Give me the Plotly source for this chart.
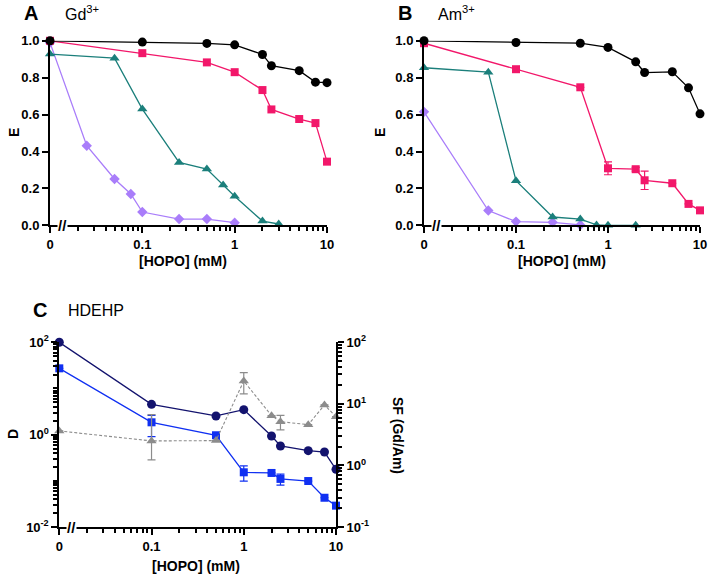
import plotly.graph_objects as go

# ---------------- data ----------------
# "0" HOPO is plotted at 0.01 on the log axis (axis break)
ZERO = 0.01

# Panel A (Gd3+)
a_black_x = [ZERO, 0.1, 0.5, 1, 2, 2.5, 5, 7.5, 10]
a_black_y = [1.0, 0.993, 0.986, 0.978, 0.926, 0.865, 0.838, 0.776, 0.773]
a_pink_x = [ZERO, 0.1, 0.5, 1, 2, 2.5, 5, 7.5, 10]
a_pink_y = [1.0, 0.933, 0.883, 0.830, 0.733, 0.628, 0.576, 0.554, 0.345]
a_teal_x = [ZERO, 0.05, 0.1, 0.25, 0.5, 0.75, 1, 2, 3]
a_teal_y = [0.928, 0.906, 0.630, 0.341, 0.305, 0.218, 0.157, 0.023, 0.007]
a_purple_x = [ZERO, 0.025, 0.05, 0.075, 0.1, 0.25, 0.5, 1]
a_purple_y = [0.99, 0.431, 0.251, 0.170, 0.072, 0.034, 0.034, 0.014]

# Panel B (Am3+)
b_black_x = [ZERO, 0.1, 0.5, 1, 2, 2.5, 5, 7.5, 10]
b_black_y = [1.0, 0.991, 0.987, 0.964, 0.886, 0.828, 0.832, 0.745, 0.604]
b_pink_x = [ZERO, 0.1, 0.5, 1, 2, 2.5, 5, 7.5, 10]
b_pink_y = [0.987, 0.846, 0.748, 0.309, 0.304, 0.244, 0.228, 0.116, 0.081]
b_pink_err = [0, 0, 0, 0.035, 0.01, 0.05, 0, 0, 0]
b_teal_x = [ZERO, 0.05, 0.1, 0.25, 0.5, 0.75, 1, 2]
b_teal_y = [0.854, 0.830, 0.242, 0.045, 0.034, 0.002, 0.0, 0.0]
b_purple_x = [ZERO, 0.05, 0.1, 0.25, 0.5]
b_purple_y = [0.615, 0.080, 0.020, 0.016, 0.002]

# Panel C (HDEHP)
c_x = [ZERO, 0.1, 0.5, 1, 2, 2.5, 5, 7.5, 10]
c_gd_D = [100, 4.54, 2.54, 3.48, 0.936, 0.569, 0.45, 0.42, 0.177]
c_am_D = [27.3, 1.85, 0.97, 0.153, 0.148, 0.11, 0.099, 0.043, 0.029]
c_am_up = [0, 0.77, 0, 0.057, 0, 0.03, 0, 0, 0]
c_am_dn = [0, 0.944, 0, 0.054, 0, 0.029, 0, 0, 0]
c_sf = [3.63, 2.50, 2.53, 23.5, 6.44, 5.14, 4.6, 9.6, 6.2]
c_sf_up = [0, 4.18, 0, 8.7, 0, 1.36, 0, 0, 0]
c_sf_dn = [0, 1.27, 0, 9.0, 0, 1.37, 0, 0, 0]

x_tickvals = [ZERO, 0.1, 1, 10]
x_ticktext = ["0", "0.1", "1", "10"]
e_tickvals = [0, 0.2, 0.4, 0.6, 0.8, 1.0]
e_ticktext = ["0.0", "0.2", "0.4", "0.6", "0.8", "1.0"]
d_tickvals = [0.01, 1, 100]
d_ticktext = ["10<sup>-2</sup>", "10<sup>0</sup>", "10<sup>2</sup>"]
sf_tickvals = [0.1, 1, 10, 100]
sf_ticktext = ["10<sup>-1</sup>", "10<sup>0</sup>", "10<sup>1</sup>", "10<sup>2</sup>"]

# ---------------- styling ----------------
BLACK = "#000000"
PINK = "#F2176A"
TEAL = "#1B7F7B"
PURPLE = "#A97DFA"
NAVY = "#13136E"
BLUE = "#1030F2"
GRAY = "#8C8C8C"
FONT = "Liberation Sans"

def decade_minor(lo_exp, hi_exp, include_decades=False):
    vals = []
    for e in range(lo_exp, hi_exp):
        base = 10.0 ** e
        if include_decades and e != lo_exp:
            vals.append(base)
        vals += [k * base for k in range(2, 10)]
    return vals

x_minor = decade_minor(-2, 1)
d_minor = decade_minor(-2, 2, include_decades=True)
sf_minor = decade_minor(-1, 2)

fig = go.Figure()

def line_trace(x, y, color, symbol, size, xa, ya, dash="solid", err=None, name="", lw=1.3):
    kw = {}
    if err is not None:
        kw["error_y"] = err
    return go.Scatter(
        x=x, y=y, mode="lines+markers", xaxis=xa, yaxis=ya, name=name,
        line=dict(color=color, width=lw, dash=dash),
        marker=dict(color=color, symbol=symbol, size=size),
        cliponaxis=False, showlegend=False, **kw)

# Panel A
fig.add_trace(line_trace(a_purple_x, a_purple_y, PURPLE, "diamond", 8, "x", "y"))
fig.add_trace(line_trace(a_teal_x, a_teal_y, TEAL, "triangle-up", 9, "x", "y"))
fig.add_trace(line_trace(a_pink_x, a_pink_y, PINK, "square", 8, "x", "y"))
fig.add_trace(line_trace(a_black_x, a_black_y, BLACK, "circle", 9, "x", "y"))

# Panel B
fig.add_trace(line_trace(b_purple_x, b_purple_y, PURPLE, "diamond", 8, "x2", "y2"))
fig.add_trace(line_trace(b_teal_x, b_teal_y, TEAL, "triangle-up", 9, "x2", "y2"))
fig.add_trace(line_trace(b_pink_x, b_pink_y, PINK, "square", 8, "x2", "y2",
                         err=dict(type="data", array=b_pink_err, color=PINK,
                                  thickness=1.2, width=4)))
fig.add_trace(line_trace(b_black_x, b_black_y, BLACK, "circle", 9, "x2", "y2"))

# Panel C
fig.add_trace(line_trace(c_x, c_sf, GRAY, "triangle-up", 9, "x3", "y4", dash="3px,2px",
                         lw=1.1,
                         err=dict(type="data", symmetric=False, array=c_sf_up,
                                  arrayminus=c_sf_dn, color=GRAY, thickness=1.2, width=4)))
fig.add_trace(line_trace(c_x, c_gd_D, NAVY, "circle", 9, "x3", "y3"))
fig.add_trace(line_trace(c_x, c_am_D, BLUE, "square", 8, "x3", "y3",
                         err=dict(type="data", symmetric=False, array=c_am_up,
                                  arrayminus=c_am_dn, color=BLUE, thickness=1.2, width=4)))

W, H = 708, 576
def px(v):
    return v / W
def py(v):
    return 1 - v / H

tickfont = dict(family=FONT, size=13, color="black", weight="bold")

common_axis = dict(showline=True, linecolor="black", linewidth=2, ticks="outside",
                   ticklen=6, tickwidth=2, tickcolor="black", showgrid=False,
                   zeroline=False, tickfont=tickfont, automargin=False)

def xaxis_cfg(domain, anchor):
    return dict(common_axis, type="log", range=[-2, 1], domain=domain, anchor=anchor,
                tickmode="array", tickvals=x_tickvals, ticktext=x_ticktext,
                minor=dict(tickmode="array", tickvals=x_minor, ticks="outside",
                           ticklen=4, tickwidth=1.5, tickcolor="black", showgrid=False))

def e_axis_cfg(domain, anchor):
    return dict(common_axis, range=[0, 1.0], domain=domain, anchor=anchor,
                tickmode="array", tickvals=e_tickvals, ticktext=e_ticktext)

yA = [py(225.3), py(40.8)]
fig.update_layout(
    width=W, height=H, margin=dict(l=0, r=0, t=0, b=0, autoexpand=False),
    plot_bgcolor="white", paper_bgcolor="white",
    font=dict(family=FONT, color="black"),
    xaxis=xaxis_cfg([px(50), px(327)], "y"),
    yaxis=e_axis_cfg(yA, "x"),
    xaxis2=xaxis_cfg([px(424), px(700)], "y2"),
    yaxis2=e_axis_cfg(yA, "x2"),
    xaxis3=xaxis_cfg([px(59.3), px(336)], "y3"),
    yaxis3=dict(common_axis, type="log", range=[-2, 2], domain=[py(527), py(342.3)],
                anchor="x3", tickmode="array", tickvals=d_tickvals, ticktext=d_ticktext,
                minor=dict(tickmode="array", tickvals=d_minor, ticks="outside",
                           ticklen=4, tickwidth=1.5, tickcolor="black", showgrid=False)),
    yaxis4=dict(common_axis, type="log", range=[-1, 2], domain=[py(527), py(342.3)],
                anchor="x3", overlaying="y3", side="right",
                tickmode="array", tickvals=sf_tickvals, ticktext=sf_ticktext,
                minor=dict(tickmode="array", tickvals=sf_minor, ticks="outside",
                           ticklen=4, tickwidth=1.5, tickcolor="black", showgrid=False)),
)

ann = []
title_font = dict(family=FONT, size=20, color="black", weight="bold")
sub_font = dict(family=FONT, size=16, color="black")
lab_font = dict(family=FONT, size=14, color="black", weight="bold")

def add_text(text, x, y, font, xanchor="left", yanchor="middle", textangle=0):
    ann.append(dict(text=text, x=px(x), y=py(y), xref="paper", yref="paper",
                    xanchor=xanchor, yanchor=yanchor, showarrow=False, font=font,
                    textangle=textangle))

add_text("A", 22, 13, title_font)
add_text("Gd<sup>3+</sup>", 63, 13, sub_font)
add_text("B", 396, 13, title_font)
add_text("Am<sup>3+</sup>", 436, 13, sub_font)
add_text("C", 31, 310, title_font)
add_text("HDEHP", 66, 310, sub_font)

add_text("E", 14, 133, lab_font, xanchor="center", textangle=-90)
add_text("E", 380, 133, lab_font, xanchor="center", textangle=-90)
add_text("D", 13, 434, lab_font, xanchor="center", textangle=-90)
add_text("SF (Gd/Am)", 398, 435, lab_font, xanchor="center", textangle=90)

add_text("[HOPO] (mM)", 183, 261, lab_font, xanchor="center")
add_text("[HOPO] (mM)", 562, 261, lab_font, xanchor="center")
add_text("[HOPO] (mM)", 196, 566, lab_font, xanchor="center")

# axis break marks
brk_font = dict(family=FONT, size=15, color="black", weight="bold")
for xr, yr in [("x domain", "y domain"), ("x2 domain", "y2 domain"), ("x3 domain", "y3 domain")]:
    ann.append(dict(text="//", x=0.045, y=0, xref=xr, yref=yr, xanchor="center",
                    yanchor="middle", showarrow=False, font=brk_font,
                    bgcolor="white", borderpad=0))

fig.update_layout(annotations=ann)
fig.write_html(
    "out.html",
    config={"displayModeBar": False},
    post_script="document.body.style.margin='0';document.body.style.padding='0';"
                "document.body.style.overflow='hidden';",
)
